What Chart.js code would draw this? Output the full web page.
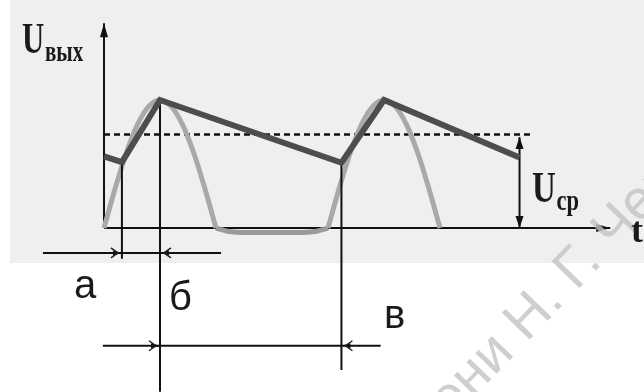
<!DOCTYPE html>
<html>
<head>
<meta charset="utf-8">
<script src="https://cdn.jsdelivr.net/npm/chart.js@4.4.1/dist/chart.umd.min.js"></script>
<style>
  html, body { margin: 0; padding: 0; background: #ffffff; }
  #wrap { width: 644px; height: 392px; }
</style>
</head>
<body>
<div id="wrap"><canvas id="chart" width="644" height="392"></canvas></div>
<script>
// Rectifier output with smoothing capacitor (t in ms, U in relative units)

// half-wave pulses of the rectifier (grey)
const wave1T = [0, 1, 2, 3, 4, 5, 6, 7, 8, 9, 10];
const wave1U = [0, 3.1, 5.9, 8.1, 9.5, 10, 9.5, 8.1, 5.9, 3.1, 0];
const gapT = [10, 11, 13, 15, 17, 19, 20];
const gapU = [0, -0.25, -0.35, -0.35, -0.35, -0.25, 0];
const wave2T = [20, 21, 22, 23, 24, 25, 26, 27, 28, 29, 30];
const wave2U = [0, 3.1, 5.9, 8.1, 9.5, 10, 9.5, 8.1, 5.9, 3.1, 0];

// output voltage on the capacitor (dark)
const outT = [0, 1.6, 5, 21.2, 25, 37.1];
const outU = [5.6, 5.15, 10, 5.1, 10, 5.5];

// mean voltage
const avgU = 7.3;
const avgT = [0, 38.2];

// axes
const axisTEnd = 45.2;
const axisUEnd = 16.0;

// segment boundaries a / б / в
const markT = [1.6, 5, 21.2];
const markTopU = [5.15, 10, 5.1];
const markBottomU = [-2.4, -12.8, -11.1];
const segNames = ['а', 'б', 'в'];

// dimension rows
const dimU = [-1.95, -9.2];
const dimFromT = [-5.45, -0.1];
const dimToT = [10.45, 24.7];
const dimTips = [[1.6, 5], [5, 21.2]];

// U_ср marker
const ucpT = 37.1;
const ucpU = [0, 7.1];

const pts = (ts, us) => ts.map((t, i) => ({ x: t, y: us[i] }));

function lineSet(data, color, width, order, extra) {
    return Object.assign({
        data: data,
        showLine: true,
        borderColor: color,
        borderWidth: width,
        pointRadius: 0,
        fill: false,
        order: order
    }, extra || {});
}

const datasets = [];
// dark output line on top
datasets.push(lineSet(pts(outT, outU), '#4d4d4d', 6, 0, { borderJoinStyle: 'miter', borderCapStyle: 'butt' }));
// guide verticals
markT.forEach((t, i) => {
    datasets.push(lineSet([{ x: t, y: markTopU[i] }, { x: t, y: markBottomU[i] }], '#111111', 2, 1));
});
// grey pulses
datasets.push(lineSet(pts(wave1T, wave1U), '#a9a9a9', 5, 2, { cubicInterpolationMode: 'monotone' }));
datasets.push(lineSet(pts(wave2T, wave2U), '#a9a9a9', 5, 2, { cubicInterpolationMode: 'monotone' }));
datasets.push(lineSet(pts(gapT, gapU), '#9a9a9a', 5, 2, { cubicInterpolationMode: 'monotone' }));
// mean value (dashed)
datasets.push(lineSet([{ x: avgT[0], y: avgU }, { x: avgT[1], y: avgU }], '#111111', 2.5, 3, { borderDash: [6, 4] }));
// axes
datasets.push(lineSet([{ x: 0, y: 0 }, { x: 0, y: axisUEnd }], '#111111', 2, 4));
datasets.push(lineSet([{ x: 0, y: 0 }, { x: axisTEnd, y: 0 }], '#111111', 2, 4));
// dimension rows
dimU.forEach((u, i) => {
    datasets.push(lineSet([{ x: dimFromT[i], y: u }, { x: dimToT[i], y: u }], '#111111', 2, 4));
});
// U_ср arrow shaft
datasets.push(lineSet([{ x: ucpT, y: ucpU[0] }, { x: ucpT, y: ucpU[1] }], '#111111', 2, 4));

function arrowHead(ctx, x, y, dx, dy, len, half) {
    const nx = -dy, ny = dx;
    ctx.beginPath();
    ctx.moveTo(x, y);
    ctx.lineTo(x - dx * len + nx * half, y - dy * len + ny * half);
    ctx.lineTo(x - dx * len - nx * half, y - dy * len - ny * half);
    ctx.closePath();
    ctx.fill();
}

function dimArrow(ctx, x, y, dir) {
    // small tick arrow used on the dimension rows
    ctx.save();
    ctx.fillStyle = '#111111';
    ctx.strokeStyle = '#222222';
    ctx.lineWidth = 1.5;
    arrowHead(ctx, x, y, dir, 0, 9, 2.5);
    ctx.beginPath();
    ctx.moveTo(x - dir * 4, y);
    ctx.lineTo(x - dir * 11, y - 5);
    ctx.moveTo(x - dir * 4, y);
    ctx.lineTo(x - dir * 11, y + 5);
    ctx.stroke();
    ctx.restore();
}

function drawSub(ctx, base, sub, x, y, baseSize, subSize, sx, subDy) {
    ctx.save();
    ctx.fillStyle = '#1a1a1a';
    ctx.textBaseline = 'alphabetic';
    ctx.translate(x, y);
    ctx.scale(sx, 1);
    ctx.font = 'bold ' + baseSize + 'px "Liberation Serif"';
    ctx.fillText(base, 0, 0);
    const w = ctx.measureText(base).width;
    ctx.font = 'bold ' + subSize + 'px "Liberation Serif"';
    ctx.fillText(sub, w + 1, subDy);
    ctx.restore();
}

const sheetPlugin = {
    id: 'sheet',
    beforeDraw(chart) {
        const { ctx } = chart;
        ctx.save();
        ctx.fillStyle = '#ffffff';
        ctx.fillRect(0, 0, chart.width, chart.height);
        ctx.fillStyle = '#efefef';
        ctx.fillRect(10, 0, chart.width - 10, 263);
        ctx.restore();
    },
    afterDatasetsDraw(chart) {
        const { ctx } = chart;
        const xs = chart.scales.x, ys = chart.scales.y;
        const px = v => xs.getPixelForValue(v);
        const py = v => ys.getPixelForValue(v);

        ctx.save();
        ctx.fillStyle = '#111111';
        // axis arrows
        arrowHead(ctx, px(0), py(axisUEnd), 0, -1, 14, 4);
        arrowHead(ctx, px(axisTEnd), py(0), 1, 0, 14, 4);
        // U_ср double arrow
        arrowHead(ctx, px(ucpT), py(ucpU[1]), 0, -1, 12, 4);
        arrowHead(ctx, px(ucpT), py(ucpU[0]), 0, 1, 12, 4);
        ctx.restore();

        // dimension arrows
        dimTips.forEach((tips, i) => {
            dimArrow(ctx, px(tips[0]), py(dimU[i]), 1);
            dimArrow(ctx, px(tips[1]), py(dimU[i]), -1);
        });
    },
    afterDraw(chart) {
        const { ctx } = chart;
        // watermark
        ctx.save();
        ctx.font = '56px "Liberation Sans"';
        ctx.fillStyle = 'rgba(195,195,195,0.8)';
        const ang = -46 * Math.PI / 180;
        const before = ctx.measureText('имени Н').width + ctx.measureText('.').width / 2;
        const dotX = 560, dotY = 308;
        ctx.translate(dotX - before * Math.cos(ang), dotY - before * Math.sin(ang));
        ctx.rotate(ang);
        ctx.fillText('имени Н. Г. Чернышевского', 0, 0);
        ctx.restore();

        // labels
        drawSub(ctx, 'U', 'вых', 22, 53, 44, 30, 0.7, 8);
        drawSub(ctx, 'U', 'ср', 532, 202, 44, 30, 0.75, 8);
        ctx.save();
        ctx.fillStyle = '#1a1a1a';
        ctx.font = 'bold 36px "Liberation Serif"';
        ctx.fillText('t', 631, 242);
        ctx.font = '40px "Liberation Sans"';
        ctx.fillText(segNames[0], 74, 298);
        ctx.fillText(segNames[1], 169, 310);
        ctx.fillText(segNames[2], 384, 328);
        ctx.restore();
    }
};

new Chart(document.getElementById('chart'), {
    type: 'scatter',
    data: { datasets: datasets },
    options: {
        responsive: false,
        animation: false,
        devicePixelRatio: 1,
        layout: { padding: 0 },
        plugins: { legend: { display: false }, tooltip: { enabled: false } },
        scales: {
            x: { type: 'linear', min: -104 / 11.2, max: 540 / 11.2, display: false },
            y: { type: 'linear', min: -164 / 12.8, max: 228 / 12.8, display: false }
        }
    },
    plugins: [sheetPlugin]
});
</script>
</body>
</html>
